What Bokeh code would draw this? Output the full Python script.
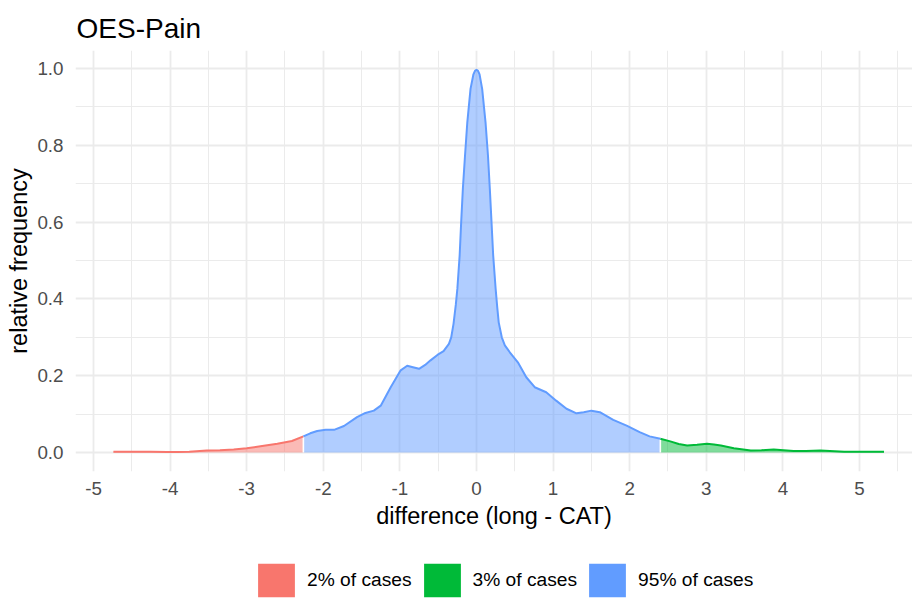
import numpy as np
from bokeh.plotting import figure
from bokeh.layouts import column
from bokeh.models import (Range1d, FixedTicker, NumeralTickFormatter, Legend,
                          LegendItem, ColumnDataSource)
from bokeh.embed import file_html
from bokeh.resources import INLINE

# ---------------- data ----------------
title_text = "OES-Pain"
x_label = "difference (long - CAT)"
y_label = "relative frequency"

diff = [-4.74, -4.50, -4.25, -4.04, -3.90, -3.75, -3.52, -3.35, -3.17, -3.00,
        -2.82, -2.60, -2.41, -2.26, -2.17, -2.08, -1.97, -1.86, -1.73, -1.56,
        -1.45, -1.34, -1.25, -1.12, -0.99, -0.905, -0.83, -0.75, -0.67, -0.60,
        -0.51, -0.43, -0.36, -0.33, -0.30, -0.27, -0.25, -0.22, -0.20, -0.178,
        -0.15, -0.12, -0.078, -0.04, -0.02, 0.0, 0.02, 0.04, 0.074, 0.118,
        0.15, 0.174, 0.196, 0.218, 0.25, 0.27, 0.29, 0.33, 0.37, 0.435,
        0.54, 0.65, 0.76, 0.91, 1.04, 1.175, 1.305, 1.40, 1.50, 1.61,
        1.785, 1.96, 2.13, 2.26, 2.40, 2.53, 2.64, 2.75, 2.88, 3.01,
        3.10, 3.19, 3.36, 3.58, 3.72, 3.88, 4.14, 4.30, 4.49, 4.80,
        5.05, 5.32]
rel_freq = [0.002, 0.002, 0.002, 0.001, 0.001, 0.002, 0.005, 0.006, 0.008, 0.011,
            0.016, 0.023, 0.030, 0.042, 0.050, 0.056, 0.059, 0.059, 0.069, 0.092,
            0.103, 0.109, 0.122, 0.170, 0.214, 0.226, 0.222, 0.218, 0.228, 0.240,
            0.254, 0.264, 0.283, 0.300, 0.335, 0.385, 0.426, 0.513, 0.600, 0.687,
            0.773, 0.860, 0.947, 0.985, 0.994, 0.997, 0.994, 0.985, 0.947, 0.860,
            0.773, 0.687, 0.600, 0.513, 0.426, 0.380, 0.339, 0.300, 0.279, 0.261,
            0.235, 0.196, 0.170, 0.157, 0.135, 0.114, 0.102, 0.105, 0.109, 0.105,
            0.085, 0.070, 0.053, 0.042, 0.036, 0.029, 0.022, 0.018, 0.020, 0.023,
            0.021, 0.018, 0.011, 0.005, 0.006, 0.008, 0.004, 0.004, 0.005, 0.002,
            0.002, 0.002]

lower_cut = -2.26
upper_cut = 2.40

group_labels = ["2% of cases", "3% of cases", "95% of cases"]
group_colors = ["#F8766D", "#00BA38", "#619CFF"]

x_ticks = [-5, -4, -3, -2, -1, 0, 1, 2, 3, 4, 5]
x_tick_labels = ["-5", "-4", "-3", "-2", "-1", "0", "1", "2", "3", "4", "5"]
x_minor = [-4.5, -3.5, -2.5, -1.5, -0.5, 0.5, 1.5, 2.5, 3.5, 4.5, 5.5]
y_ticks = [0.0, 0.2, 0.4, 0.6, 0.8, 1.0]
y_minor = [0.1, 0.3, 0.5, 0.7, 0.9]

# ---------------- main figure ----------------
FONT = "Liberation Sans"
LEFT = 75

p = figure(width=912, height=535, output_backend="svg", toolbar_location=None,
           x_range=Range1d(-5.235, 5.692), y_range=Range1d(-0.0495, 1.047),
           min_border_left=LEFT, min_border_right=0, min_border_top=50,
           min_border_bottom=64,
           background_fill_color="white", border_fill_color="white",
           outline_line_color=None)

p.title.text = title_text
p.title.text_font = FONT
p.title.text_font_size = "28px"
p.title.text_font_style = "normal"
p.title.text_color = "black"
p.title.text_line_height = 0.9
p.title.standoff = 13
p.title.offset = 1

x = np.array(diff)
y = np.array(rel_freq)
masks = [x <= lower_cut, x >= upper_cut, (x >= lower_cut) & (x <= upper_cut)]

for m, c in zip(masks, group_colors):
    src = ColumnDataSource(dict(x=x[m], y=y[m], base=np.zeros(m.sum())))
    p.varea(x="x", y1="base", y2="y", source=src, fill_color=c, fill_alpha=0.5)

# white separators at the cut points
cut_x = [lower_cut, upper_cut]
cut_y = [rel_freq[diff.index(lower_cut)], rel_freq[diff.index(upper_cut)]]
p.segment(x0=cut_x, y0=[0, 0], x1=cut_x, y1=cut_y, line_color="white",
          line_width=1.6)

for m, c in zip(masks, group_colors):
    p.line(x[m], y[m], line_color=c, line_width=2, line_join="round")

# axes
p.xaxis.ticker = FixedTicker(ticks=x_ticks, minor_ticks=x_minor)
p.xaxis.major_label_overrides = dict(zip(x_ticks, x_tick_labels))
p.yaxis.ticker = FixedTicker(ticks=y_ticks, minor_ticks=y_minor)
p.yaxis.formatter = NumeralTickFormatter(format="0.0")
p.xaxis.axis_label = x_label
p.yaxis.axis_label = y_label
for ax in (p.xaxis[0], p.yaxis[0]):
    ax.axis_line_color = None
    ax.major_tick_line_color = None
    ax.minor_tick_line_color = None
    ax.major_tick_out = 0
    ax.major_tick_in = 0
    ax.major_label_text_font = FONT
    ax.major_label_text_font_size = "18.8px"
    ax.major_label_text_color = "#4D4D4D"
    ax.axis_label_text_font = FONT
    ax.axis_label_text_font_size = "23.5px"
    ax.axis_label_text_font_style = "normal"
    ax.axis_label_text_color = "black"
p.xaxis.major_label_standoff = 6
p.yaxis.major_label_standoff = 8
p.xaxis.axis_label_standoff = 5
p.yaxis.axis_label_standoff = 2

for g in (p.xgrid[0], p.ygrid[0]):
    g.grid_line_color = "#EBEBEB"
    g.grid_line_width = 1.8
    g.minor_grid_line_color = "#EBEBEB"
    g.minor_grid_line_width = 1.0

# ---------------- legend strip (own small figure) ----------------
q = figure(width=912, height=63, output_backend="svg", toolbar_location=None,
           x_axis_type=None, y_axis_type=None,
           x_range=Range1d(0, 1), y_range=Range1d(0, 1),
           min_border_left=LEFT, min_border_right=0, min_border_top=0,
           min_border_bottom=0, outline_line_color=None,
           background_fill_color="white", border_fill_color="white")
q.grid.visible = False

items = []
for m, lab, c in zip(masks, group_labels, group_colors):
    # zero-height area: draws nothing, but gives the legend a solid key
    src = ColumnDataSource(dict(x=x[m], base=np.zeros(m.sum())))
    r = q.varea(x="x", y1="base", y2="base", source=src, fill_color=c,
                fill_alpha=1.0)
    items.append(LegendItem(label=lab, renderers=[r]))

legend = Legend(items=items, orientation="horizontal", location=(178, -3),
                glyph_width=46, glyph_height=42, label_standoff=8, spacing=7,
                label_text_font=FONT, label_text_font_size="19.2px",
                label_text_color="black",
                border_line_color=None, background_fill_alpha=0,
                padding=0, margin=0)
q.add_layout(legend, "center")

layout = column(p, q, spacing=0)
open("out.html", "w").write(file_html(layout, INLINE))
